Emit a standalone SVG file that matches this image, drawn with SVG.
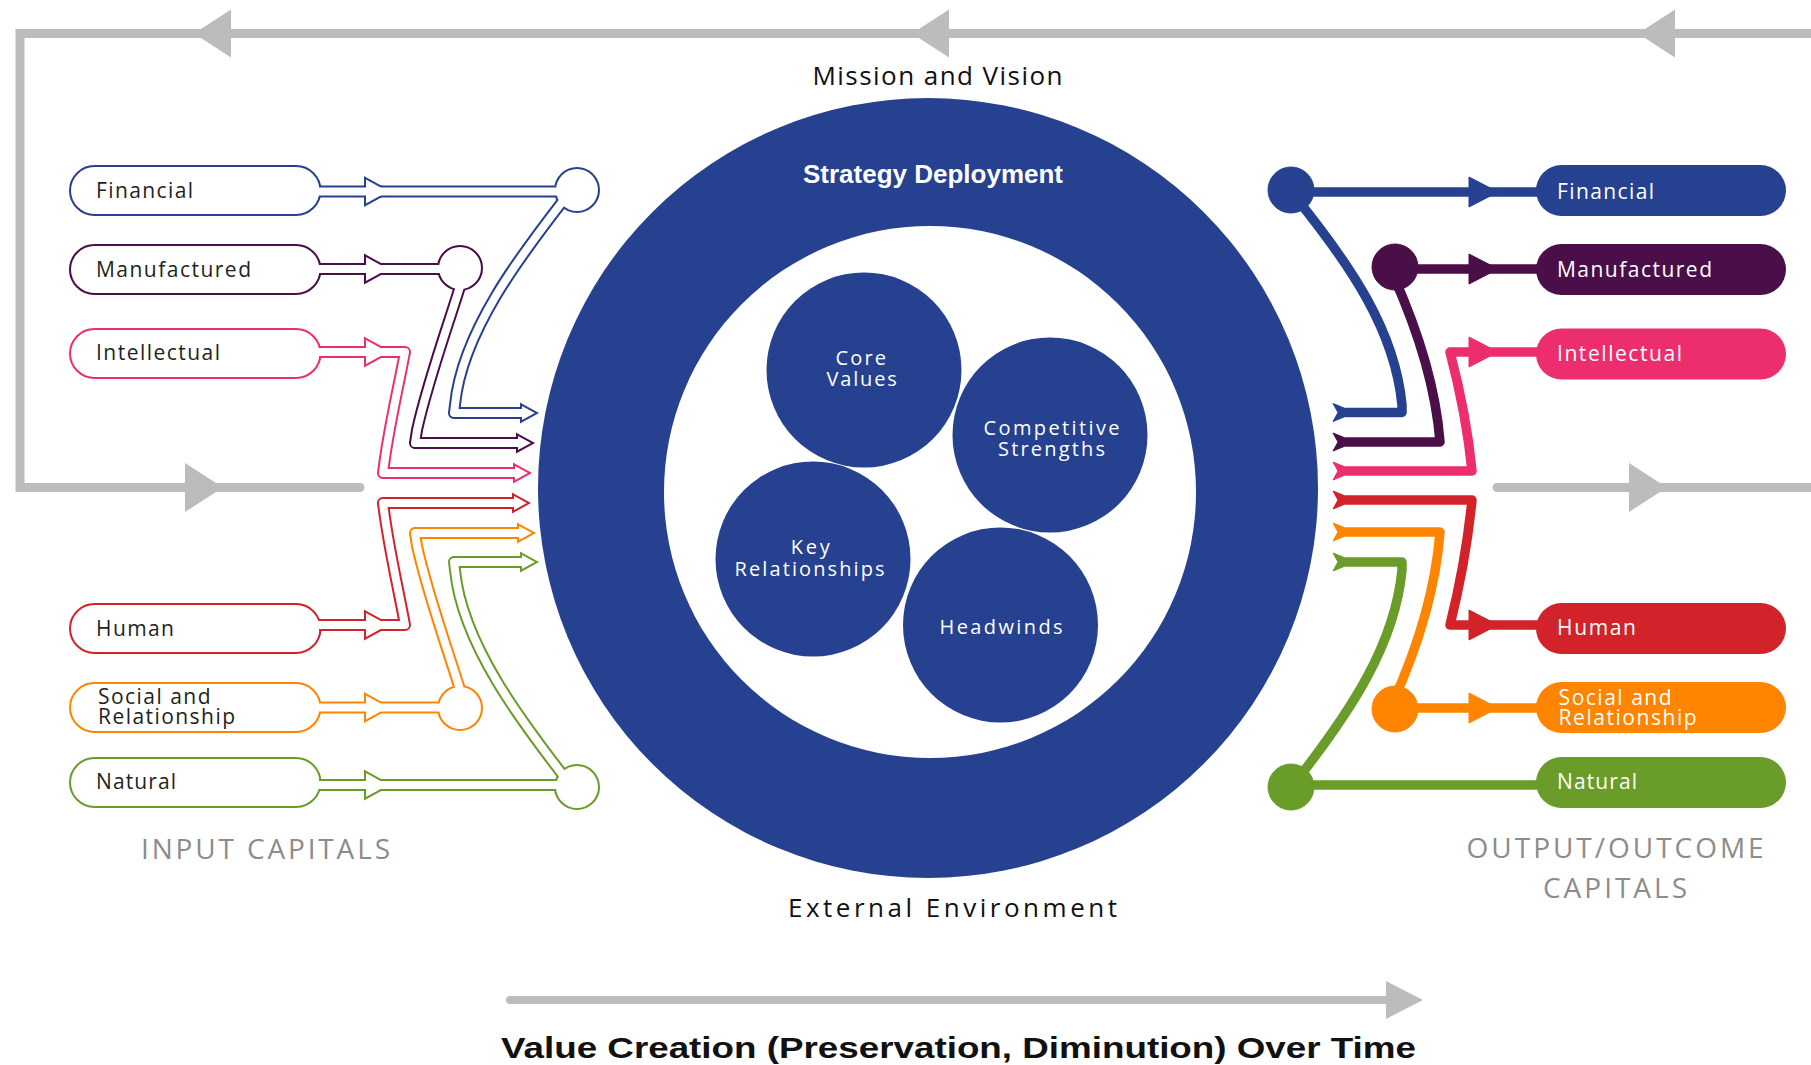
<svg xmlns="http://www.w3.org/2000/svg" width="1811" height="1065" viewBox="0 0 1811 1065">
<style>
.t{font-family:"Open Sans","Noto Sans",sans-serif}
.b{font-family:"Liberation Sans",Arial,sans-serif;font-weight:700}
.lbl{font-size:21px;fill:#231f20}
.wl{font-size:21px;fill:#fff}
.ic{font-size:20px;fill:#fff}
.hd{font-size:26px;fill:#111}
.cap{font-size:28px;fill:#8c8c8c}
.gl{stroke:#bcbcbc;stroke-width:9;fill:none;stroke-linecap:round}
.ga{fill:#bcbcbc}
.p1{stroke-width:12;fill:none;stroke-linejoin:round}
.p2{stroke:#fff;stroke-width:8;fill:none;stroke-linejoin:round}
.s1{stroke-width:4;stroke-linejoin:miter}
.w{fill:#fff}
.ol{stroke-width:9.5;fill:none;stroke-linejoin:round}
.B{stroke:#26418f;fill:#26418f}
.P{stroke:#4a0e48;fill:#4a0e48}
.K{stroke:#ec2e6e;fill:#ec2e6e}
.R{stroke:#d2232a;fill:#d2232a}
.O{stroke:#ff8500;fill:#ff8500}
.G{stroke:#6a9c2a;fill:#6a9c2a}
.nf{fill:none}
</style>

<!-- grey feedback loop -->
<g id="feedback-loop">
<path class="gl" d="M1815,33.5 H20 V487.5 H360"/>
<polygon class="ga" points="194,33.5 231,9.5 231,57.5"/>
<polygon class="ga" points="912,33.5 949,9.5 949,57.5"/>
<polygon class="ga" points="1638,33.5 1675,9.5 1675,57.5"/>
<polygon class="ga" points="223,487.5 185,463 185,512"/>
<path class="gl" d="M1497,487.5 H1815"/>
<polygon class="ga" points="1667,487.5 1629,463 1629,512"/>
</g>

<!-- central strategy circle -->
<g id="strategy-deployment">
<circle cx="928" cy="488" r="390" fill="#26418f"/>
<circle cx="930" cy="492" r="266" fill="#fff"/>
<text class="b" x="803" y="183" font-size="26" fill="#fff" textLength="260" lengthAdjust="spacingAndGlyphs">Strategy Deployment</text>
</g>
<g id="core-values">
<circle cx="864" cy="370" r="97.5" fill="#26418f"/>
<text class="t ic" x="835.6" y="365" textLength="50.5">Core</text>
<text class="t ic" x="826.4" y="386" textLength="70.4">Values</text>
</g>
<g id="competitive-strengths">
<circle cx="1050" cy="435" r="97.5" fill="#26418f"/>
<text class="t ic" x="983.5" y="435" textLength="136">Competitive</text>
<text class="t ic" x="998" y="456" textLength="107">Strengths</text>
</g>
<g id="key-relationships">
<circle cx="813" cy="559" r="97.5" fill="#26418f"/>
<text class="t ic" x="790.7" y="554" textLength="39">Key</text>
<text class="t ic" x="734.6" y="576" textLength="150">Relationships</text>
</g>
<g id="headwinds">
<circle cx="1000.5" cy="625" r="97.5" fill="#26418f"/>
<text class="t ic" x="939.6" y="634" textLength="123">Headwinds</text>
</g>

<!-- titles -->
<text id="mission" class="t hd" x="812.5" y="85" textLength="250">Mission and Vision</text>
<text id="external" class="t hd" x="788" y="917" textLength="329">External Environment</text>
<text id="input-title" class="t cap" x="141" y="859" textLength="249">INPUT CAPITALS</text>
<text id="output-title-1" class="t cap" x="1466.6" y="858" textLength="297">OUTPUT/OUTCOME</text>
<text id="output-title-2" class="t cap" x="1543" y="898" textLength="144">CAPITALS</text>

<!-- time arrow -->
<g id="time-arrow">
<path d="M510,1000 H1390" stroke="#bcbcbc" stroke-width="8" stroke-linecap="round" fill="none"/>
<polygon class="ga" points="1386,981 1423,1000 1386,1019"/>
<text class="b" x="501" y="1058" font-size="30" fill="#111" textLength="915" lengthAdjust="spacingAndGlyphs">Value Creation (Preservation, Diminution) Over Time</text>
</g>

<!-- input capital nodes -->
<g id="in-financial">
<rect class="s1 B" x="71" y="167" width="248.5" height="47" rx="23.5"/>
<rect class="w" x="71" y="167" width="248.5" height="47" rx="23.5"/>
<text class="t lbl" x="96" y="197.5" textLength="97">Financial</text>
</g>
<g id="in-manufactured">
<rect class="s1 P" x="71" y="246" width="248.5" height="47" rx="23.5"/>
<rect class="w" x="71" y="246" width="248.5" height="47" rx="23.5"/>
<text class="t lbl" x="96" y="276.5" textLength="155">Manufactured</text>
</g>
<g id="in-intellectual">
<rect class="s1 K" x="71" y="330" width="248.5" height="47" rx="23.5"/>
<rect class="w" x="71" y="330" width="248.5" height="47" rx="23.5"/>
<text class="t lbl" x="96" y="359.5" textLength="124">Intellectual</text>
</g>
<g id="in-human">
<rect class="s1 R" x="71" y="605" width="248.5" height="47" rx="23.5"/>
<rect class="w" x="71" y="605" width="248.5" height="47" rx="23.5"/>
<text class="t lbl" x="96" y="635.5" textLength="78">Human</text>
</g>
<g id="in-social">
<rect class="s1 O" x="71" y="684" width="248.5" height="47" rx="23.5"/>
<rect class="w" x="71" y="684" width="248.5" height="47" rx="23.5"/>
<text class="t lbl" x="98" y="704" textLength="112.5">Social and</text>
<text class="t lbl" x="98" y="723.5" textLength="137">Relationship</text>
</g>
<g id="in-natural">
<rect class="s1 G" x="71" y="759" width="248.5" height="47" rx="23.5"/>
<rect class="w" x="71" y="759" width="248.5" height="47" rx="23.5"/>
<text class="t lbl" x="96" y="788.5" textLength="80">Natural</text>
</g>

<!-- output capital nodes -->
<g id="out-financial">
<rect x="1536" y="165" width="250" height="51" rx="25.5" fill="#26418f"/>
<text class="t wl" x="1557" y="199" textLength="97">Financial</text>
</g>
<g id="out-manufactured">
<rect x="1536" y="244" width="250" height="51" rx="25.5" fill="#4a0e48"/>
<text class="t wl" x="1557" y="276.5" textLength="155">Manufactured</text>
</g>
<g id="out-intellectual">
<rect x="1536" y="328.5" width="250" height="51" rx="25.5" fill="#ec2e6e"/>
<text class="t wl" x="1557" y="360.5" textLength="125">Intellectual</text>
</g>
<g id="out-human">
<rect x="1536" y="603" width="250" height="51" rx="25.5" fill="#d2232a"/>
<text class="t wl" x="1557" y="635" textLength="79">Human</text>
</g>
<g id="out-social">
<rect x="1536" y="682" width="250" height="51" rx="25.5" fill="#ff8500"/>
<text class="t wl" x="1558.6" y="705" textLength="113">Social and</text>
<text class="t wl" x="1558.6" y="724.5" textLength="138">Relationship</text>
</g>
<g id="out-natural">
<rect x="1536" y="757" width="250" height="51" rx="25.5" fill="#6a9c2a"/>
<text class="t wl" x="1557" y="788.5" textLength="80">Natural</text>
</g>

<!-- connectors -->
<g id="connectors">
<!-- input: financial -->
<g id="c-in-financial">
<g class="B">
<path class="p1 nf" d="M319,191.5 H577"/>
<path class="p1 nf" d="M566,197 C525,250 462,330 455,405 L454,413 H525"/>
<polygon class="s1" points="366,179.4 387.9,191.5 366,203.6"/>
<polygon class="s1" points="522,405.9 534.9,413 522,420.1"/>
<circle class="s1" cx="577" cy="190" r="21"/>
</g>
<g>
<path class="p2" d="M317,191.5 H577"/>
<path class="p2" d="M566,197 C525,250 462,330 455,405 L454,413 H525"/>
<polygon class="w" points="366,179.4 387.9,191.5 366,203.6"/>
<polygon class="w" points="522,405.9 534.9,413 522,420.1"/>
<circle class="w" cx="577" cy="190" r="21"/>
</g>
</g>
<!-- input: manufactured -->
<g id="c-in-manufactured">
<g class="P">
<path class="p1 nf" d="M319,269 H460"/>
<path class="p1 nf" d="M462,280 C450,320 428,380 417,430 L415,443 H521"/>
<polygon class="s1" points="366,256.9 387.9,269 366,281.1"/>
<polygon class="s1" points="518,435.9 530.9,443 518,450.1"/>
<circle class="s1" cx="460" cy="268" r="21"/>
</g>
<g>
<path class="p2" d="M317,269 H460"/>
<path class="p2" d="M462,280 C450,320 428,380 417,430 L415,443 H521"/>
<polygon class="w" points="366,256.9 387.9,269 366,281.1"/>
<polygon class="w" points="518,435.9 530.9,443 518,450.1"/>
<circle class="w" cx="460" cy="268" r="21"/>
</g>
</g>
<!-- input: intellectual -->
<g id="c-in-intellectual">
<g class="K">
<path class="p1 nf" d="M319,352 H405 C398,390 388,430 383,473 H518"/>
<polygon class="s1" points="366,339.9 387.9,352 366,364.1"/>
<polygon class="s1" points="515,465.9 527.9,473 515,480.1"/>
</g>
<g>
<path class="p2" d="M317,352 H405 C398,390 388,430 383,473 H518"/>
<polygon class="w" points="366,339.9 387.9,352 366,364.1"/>
<polygon class="w" points="515,465.9 527.9,473 515,480.1"/>
</g>
</g>
<!-- input: human -->
<g id="c-in-human">
<g class="R">
<path class="p1 nf" d="M319,625 H405 C398,587 388,545 383,503 H517"/>
<polygon class="s1" points="366,612.9 387.9,625 366,637.1"/>
<polygon class="s1" points="514,495.9 526.9,503 514,510.1"/>
</g>
<g>
<path class="p2" d="M317,625 H405 C398,587 388,545 383,503 H517"/>
<polygon class="w" points="366,612.9 387.9,625 366,637.1"/>
<polygon class="w" points="514,495.9 526.9,503 514,510.1"/>
</g>
</g>
<!-- input: social -->
<g id="c-in-social">
<g class="O">
<path class="p1 nf" d="M319,707.5 H460"/>
<path class="p1 nf" d="M462,696 C450,656 428,596 417,546 L415,533 H522"/>
<polygon class="s1" points="366,695.4 387.9,707.5 366,719.6"/>
<polygon class="s1" points="519,525.9 531.9,533 519,540.1"/>
<circle class="s1" cx="460" cy="708" r="21"/>
</g>
<g>
<path class="p2" d="M317,707.5 H460"/>
<path class="p2" d="M462,696 C450,656 428,596 417,546 L415,533 H522"/>
<polygon class="w" points="366,695.4 387.9,707.5 366,719.6"/>
<polygon class="w" points="519,525.9 531.9,533 519,540.1"/>
<circle class="w" cx="460" cy="708" r="21"/>
</g>
</g>
<!-- input: natural -->
<g id="c-in-natural">
<g class="G">
<path class="p1 nf" d="M319,785 H577"/>
<path class="p1 nf" d="M566,779 C525,726 462,645 455,570 L454,562 H525"/>
<polygon class="s1" points="366,772.9 387.9,785 366,797.1"/>
<polygon class="s1" points="522,554.9 534.9,562 522,569.1"/>
<circle class="s1" cx="577" cy="787" r="21"/>
</g>
<g>
<path class="p2" d="M317,785 H577"/>
<path class="p2" d="M566,779 C525,726 462,645 455,570 L454,562 H525"/>
<polygon class="w" points="366,772.9 387.9,785 366,797.1"/>
<polygon class="w" points="522,554.9 534.9,562 522,569.1"/>
<circle class="w" cx="577" cy="787" r="21"/>
</g>
</g>

<!-- output: financial -->
<g id="c-out-financial" class="B">
<path class="ol nf" d="M1291,192 H1540"/>
<path class="ol nf" d="M1297,199 C1350,265 1395,330 1402,405 L1402,412.5 H1343"/>
<circle cx="1291" cy="190" r="23"/>
<polygon points="1469,177 1498,192 1469,207"/>
<polygon points="1333,403.5 1344,408 1344,417 1333,421.5 1338,412.5"/>
</g>
<!-- output: manufactured -->
<g id="c-out-manufactured" class="P">
<path class="ol nf" d="M1395,269 H1540"/>
<path class="ol nf" d="M1393,275 C1420,335 1436,390 1440,442 H1343"/>
<circle cx="1395" cy="267" r="23"/>
<polygon points="1469,254 1498,269 1469,284"/>
<polygon points="1333,433 1344,437.5 1344,446.5 1333,451 1338,442"/>
</g>
<!-- output: intellectual -->
<g id="c-out-intellectual" class="K">
<path class="ol nf" d="M1540,352 H1450 C1460,390 1468,430 1472,471 H1343"/>
<polygon points="1469,337 1498,352 1469,367"/>
<polygon points="1333,462 1344,466.5 1344,475.5 1333,480 1338,471"/>
</g>
<!-- output: human -->
<g id="c-out-human" class="R">
<path class="ol nf" d="M1343,500 H1472 C1468,540 1460,585 1450,625 H1540"/>
<polygon points="1469,610 1498,625 1469,640"/>
<polygon points="1333,491 1344,495.5 1344,504.5 1333,509 1338,500"/>
</g>
<!-- output: social -->
<g id="c-out-social" class="O">
<path class="ol nf" d="M1395,708 H1540"/>
<path class="ol nf" d="M1393,702 C1420,642 1436,585 1440,532 H1343"/>
<circle cx="1395" cy="709" r="23"/>
<polygon points="1469,693 1498,708 1469,723"/>
<polygon points="1333,523 1344,527.5 1344,536.5 1333,541 1338,532"/>
</g>
<!-- output: natural -->
<g id="c-out-natural" class="G">
<path class="ol nf" d="M1291,785 H1540"/>
<path class="ol nf" d="M1297,780 C1350,712 1395,645 1402,570 L1402,562 H1343"/>
<circle cx="1291" cy="787" r="23"/>
<polygon points="1333,553 1344,557.5 1344,566.5 1333,571 1338,562"/>
</g>
</g>
</svg>
